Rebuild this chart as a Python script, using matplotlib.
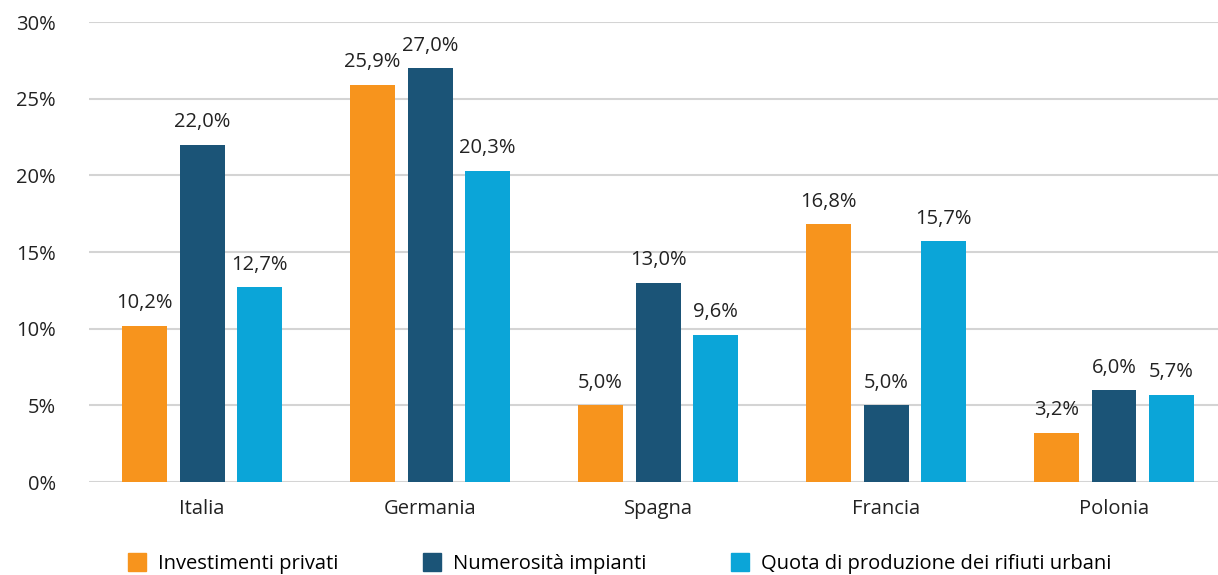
import numpy as np
import matplotlib.pyplot as plt
from matplotlib.patches import Patch

# Dati (quote percentuali per paese)
paesi = ["Italia", "Germania", "Spagna", "Francia", "Polonia"]
serie = ["Investimenti privati", "Numerosità impianti", "Quota di produzione dei rifiuti urbani"]
investimenti = [10.2, 25.9, 5.0, 16.8, 3.2]
impianti = [22.0, 27.0, 13.0, 5.0, 6.0]
rifiuti = [12.7, 20.3, 9.6, 15.7, 5.7]
colori = ["#F7941D", "#1B5477", "#0BA5D8"]

plt.rcParams['font.family'] = ['Open Sans', 'DejaVu Sans']
fs = 14.5

fig = plt.figure(figsize=(12.18, 5.75), dpi=100)
ax = fig.add_axes([0.0731, 0.1617, 0.9269, 0.8])

x = np.arange(len(paesi))
larghezza = 0.197
passo = 0.252

for i, (valori, col) in enumerate(zip([investimenti, impianti, rifiuti], colori)):
    pos = x + (i - 1) * passo
    ax.bar(pos, valori, width=larghezza, color=col, zorder=3)
    for xb, v in zip(pos, valori):
        ax.annotate(f"{v:.1f}%".replace(".", ","), (xb, v), xytext=(0, 9),
                    textcoords="offset points", ha="center", va="bottom",
                    fontsize=fs, color="#222222")

ax.set_xlim(-0.496, 4.456)
ax.set_ylim(0, 30)
ax.set_yticks(range(0, 31, 5))
ax.set_yticklabels([f"{t}%" for t in range(0, 31, 5)])
ax.set_xticks(x)
ax.set_xticklabels(paesi)
ax.tick_params(axis="both", length=0, labelsize=fs, labelcolor="#222222")
ax.tick_params(axis="y", pad=24)
ax.tick_params(axis="x", pad=12)
ax.grid(axis="y", color="#d4d4d4", linewidth=1.5, zorder=0)
for s in ax.spines.values():
    s.set_visible(False)

handles = [Patch(color=c) for c in colori]
fig.legend(handles, serie, loc="lower left", bbox_to_anchor=(0.09, -0.03),
           ncol=3, frameon=False, fontsize=fs, handlelength=0.9, handleheight=1.0,
           handletextpad=0.6, columnspacing=4.2)

plt.savefig("out.png", dpi=100)
